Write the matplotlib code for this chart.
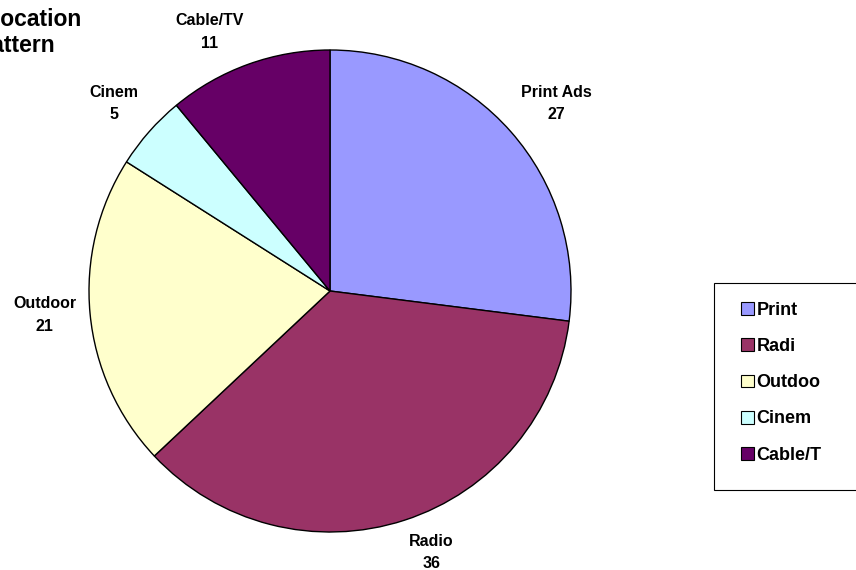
import numpy as np
import matplotlib.pyplot as plt
from matplotlib.patches import Rectangle

plt.rcParams['font.family'] = ['Liberation Sans', 'DejaVu Sans']
plt.rcParams['font.weight'] = 'bold'

# slice data (clockwise from 12 o'clock)
categories = ['Print Ads', 'Radio', 'Outdoor', 'Cinem', 'Cable/TV']
values = [27, 36, 21, 5, 11]
legend_labels = ['Print', 'Radi', 'Outdoo', 'Cinem', 'Cable/T']
colors = ['#9999FF', '#993366', '#FFFFCC', '#CCFFFF', '#660066']

W, H = 856, 570
fig = plt.figure(figsize=(W / 100, H / 100), dpi=100)
ax = fig.add_axes([0, 0, 1, 1])

cx, cy, r = 330, H - 291, 241
wedges, _ = ax.pie(values, colors=colors, startangle=90,
                   counterclock=False, center=(cx, cy), radius=r,
                   wedgeprops=dict(edgecolor='black', linewidth=1))

# Excel-style labels: box sits just outside the slice edge
for w, c, v in zip(wedges, categories, values):
    ang = np.deg2rad((w.theta1 + w.theta2) / 2)
    ca, sa = np.cos(ang), np.sin(ang)
    ha = 'left' if ca > 0.25 else ('right' if ca < -0.25 else 'center')
    va = 'bottom' if sa > 0.3 else ('top' if sa < -0.3 else 'center')
    ax.text(cx + (r + 14) * ca, cy + (r + 14) * sa, f'{c}\n{v}',
            ha=ha, va=va, multialignment='center', linespacing=1.65,
            fontsize=11.5, fontweight='bold')

# pixel-like coordinates, set after pie() so they stick
ax.set_xlim(0, W)
ax.set_ylim(0, H)
ax.set_aspect('equal')
ax.axis('off')

# title (clipped at left edge as in source)
fig.text(82 / W, 1 - 19 / H, 'Allocation', ha='right', va='center',
         fontsize=16.5, fontweight='bold')
fig.text(55 / W, 1 - 46 / H, 'Pattern', ha='right', va='center',
         fontsize=16.5, fontweight='bold')

# legend box runs past the right edge
fig.patches.append(Rectangle((714 / W, 1 - 490 / H), 170 / W, 207 / H,
                             transform=fig.transFigure, facecolor='white',
                             edgecolor='black', linewidth=0.8, zorder=1))
leg = fig.legend(wedges, legend_labels, loc='upper left',
                 bbox_to_anchor=(741 / W, 1 - 302 / H),
                 frameon=False, fontsize=13,
                 handlelength=0.72, handleheight=0.72, handletextpad=0.15,
                 labelspacing=1.06, borderpad=0, borderaxespad=0)
leg.set_zorder(2)
for h in leg.legend_handles:
    h.set_edgecolor('black')
    h.set_linewidth(0.8)

plt.savefig('out.png', dpi=100)
